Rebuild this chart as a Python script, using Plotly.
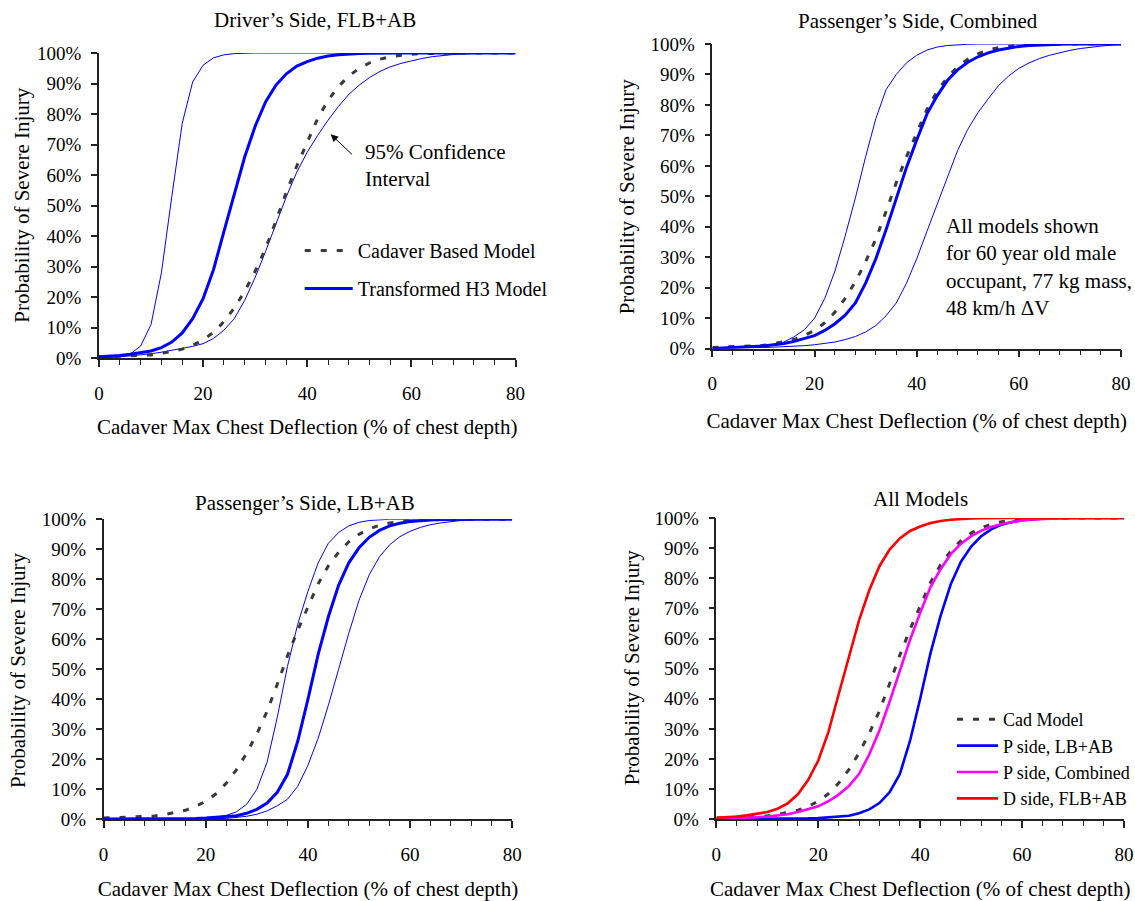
import plotly.graph_objects as go

# ---------------- data ----------------
deflection = list(range(0, 82, 2))  # Cadaver max chest deflection, % of chest depth

cadaver_model = [0.4, 0.5, 0.6, 0.7, 0.9, 1.1, 1.6, 2.2, 3.0, 4.3, 6.0, 8.5, 12.0, 16.5, 22.0,
                 28.5, 36.0, 45.0, 54.5, 63.0, 71.0, 78.5, 84.5, 89.0, 92.5, 95.0, 96.8, 98.0,
                 98.8, 99.3, 99.6, 99.8, 99.9, 100, 100, 100, 100, 100, 100, 100, 100]

d_side_flb_ab = [0.5, 0.6, 0.9, 1.3, 1.9, 2.4, 3.5, 5.3, 8.3, 13.0, 19.5, 29.0, 41.5, 54.0,
                 66.0, 76.0, 84.0, 89.5, 93.2, 95.7, 97.2, 98.3, 99.0, 99.4, 99.7, 99.85, 99.9,
                 100, 100, 100, 100, 100, 100, 100, 100, 100, 100, 100, 100, 100, 100]
d_side_ci_low = [0.2, 0.3, 0.6, 1.4, 4.0, 11.0, 28.0, 53.0, 77.0, 90.5, 96.0, 98.4, 99.4, 99.8,
                 100, 100, 100, 100, 100, 100, 100, 100, 100, 100, 100, 100, 100, 100, 100, 100,
                 100, 100, 100, 100, 100, 100, 100, 100, 100, 100, 100]
d_side_ci_high = [0.2, 0.3, 0.5, 0.8, 1.1, 1.5, 2.0, 2.6, 3.2, 3.9, 4.8, 6.5, 9.2, 13.0, 19.0,
                  26.5, 35.0, 44.0, 53.0, 61.0, 67.5, 73.0, 78.0, 82.5, 86.5, 89.5, 92.0, 94.0,
                  95.5, 96.6, 97.5, 98.2, 98.8, 99.2, 99.5, 99.7, 99.85, 99.9, 100, 100, 100]

p_side_combined = [0.1, 0.2, 0.3, 0.5, 0.7, 0.9, 1.2, 1.7, 2.4, 3.3, 4.3, 6.0, 8.2, 11.0, 15.0,
                   21.5, 29.5, 39.0, 49.5, 59.5, 68.5, 77.0, 83.0, 88.0, 91.5, 94.0, 95.8, 97.1,
                   98.0, 98.7, 99.2, 99.5, 99.7, 99.85, 99.95, 100, 100, 100, 100, 100, 100]
p_comb_ci_low = [0.2, 0.2, 0.3, 0.4, 0.5, 0.8, 1.3, 2.2, 3.9, 6.2, 10.0, 16.5, 25.5, 37.0, 49.5,
                 63.0, 75.5, 85.0, 90.0, 93.8, 96.3, 98.0, 99.0, 99.5, 99.8, 99.9, 100, 100, 100,
                 100, 100, 100, 100, 100, 100, 100, 100, 100, 100, 100, 100]
p_comb_ci_high = [0.2, 0.2, 0.2, 0.3, 0.3, 0.4, 0.5, 0.6, 0.8, 1.0, 1.3, 1.7, 2.2, 3.0, 4.0,
                  5.5, 7.6, 10.8, 15.0, 21.5, 29.5, 38.5, 47.5, 56.0, 65.0, 72.0, 77.5, 82.0,
                  86.3, 89.5, 92.0, 93.8, 95.2, 96.3, 97.2, 97.9, 98.5, 99.0, 99.3, 99.6, 99.8]

p_side_lb_ab = [0.1, 0.1, 0.1, 0.1, 0.1, 0.1, 0.1, 0.2, 0.2, 0.3, 0.4, 0.6, 0.8, 1.2, 2.0,
                3.3, 5.4, 9.0, 15.0, 26.0, 40.0, 55.0, 67.5, 78.0, 85.5, 90.5, 94.0, 96.3, 97.8,
                98.7, 99.3, 99.6, 99.8, 99.9, 100, 100, 100, 100, 100, 100, 100]
p_lb_ci_low = [0.0, 0.0, 0.0, 0.0, 0.0, 0.0, 0.0, 0.0, 0.1, 0.2, 0.4, 0.7, 1.3, 2.5, 5.0, 10.0,
               19.0, 34.0, 51.0, 65.0, 76.0, 85.5, 92.0, 95.6, 97.8, 99.0, 99.6, 99.9, 100, 100,
               100, 100, 100, 100, 100, 100, 100, 100, 100, 100, 100]
p_lb_ci_high = [0.0, 0.0, 0.0, 0.0, 0.0, 0.0, 0.0, 0.0, 0.0, 0.0, 0.1, 0.2, 0.3, 0.6, 1.0, 1.7,
                2.8, 4.5, 6.7, 11.0, 18.0, 27.0, 38.0, 50.0, 62.0, 73.0, 81.5, 87.5, 91.5, 94.2,
                96.0, 97.3, 98.2, 98.8, 99.3, 99.6, 99.8, 99.9, 100, 100, 100]

panel_titles = ["Driver\u2019s Side, FLB+AB", "Passenger\u2019s Side, Combined",
                "Passenger\u2019s Side, LB+AB", "All Models"]
x_title = "Cadaver Max Chest Deflection (% of chest depth)"
y_title = "Probability of Severe Injury"
x_ticks = [0, 20, 40, 60, 80]
y_ticks = list(range(0, 101, 10))
y_tick_text = [f"{v}%" for v in y_ticks]

# ---------------- styling ----------------
W, H = 1135, 901
FONT = "Liberation Serif, Times New Roman, serif"
BLUE, MAGENTA, RED, DASH_GRAY = "#0000FF", "#FF00FF", "#FF0000", "#3a3a3a"
AXIS_COLOR = "#222222"

def px_x(p):
    return p / W

def px_y(p):
    return 1 - p / H

# plot areas in pixels: (left, right, top, bottom)
areas = [(99, 516, 53, 358.3), (713, 1122, 44, 348.7),
         (103.7, 512.7, 519.3, 819.3), (717, 1125, 518, 819.3)]
xtitle_standoff = [16, 20, 20, 19]

fig = go.Figure()

def line_trace(y, ax, color, width, name=None, dash="solid", legend=None):
    xa = "x" if ax == 1 else f"x{ax}"
    ya = "y" if ax == 1 else f"y{ax}"
    t = go.Scatter(x=deflection, y=y, mode="lines", xaxis=xa, yaxis=ya,
                   line=dict(color=color, width=width, dash=dash),
                   cliponaxis=False, hoverinfo="skip",
                   showlegend=name is not None, name=name or "")
    if legend is not None:
        t.legend = legend
        t.legendgroup = name
    return t

CAD_DASH = "6px,10px"

# Panel 1
fig.add_trace(line_trace(d_side_ci_low, 1, BLUE, 1))
fig.add_trace(line_trace(d_side_ci_high, 1, BLUE, 1))
fig.add_trace(line_trace(cadaver_model, 1, DASH_GRAY, 3, "Cadaver Based Model", CAD_DASH, "legend"))
fig.add_trace(line_trace(d_side_flb_ab, 1, BLUE, 3, "Transformed H3 Model", "solid", "legend"))
# Panel 2
fig.add_trace(line_trace(p_comb_ci_low, 2, BLUE, 1))
fig.add_trace(line_trace(p_comb_ci_high, 2, BLUE, 1))
fig.add_trace(line_trace(cadaver_model, 2, DASH_GRAY, 3, dash=CAD_DASH))
fig.add_trace(line_trace(p_side_combined, 2, BLUE, 3))
# Panel 3
fig.add_trace(line_trace(p_lb_ci_low, 3, BLUE, 1))
fig.add_trace(line_trace(p_lb_ci_high, 3, BLUE, 1))
fig.add_trace(line_trace(cadaver_model, 3, DASH_GRAY, 3, dash=CAD_DASH))
fig.add_trace(line_trace(p_side_lb_ab, 3, BLUE, 3))
# Panel 4
fig.add_trace(line_trace(cadaver_model, 4, DASH_GRAY, 3, "Cad Model", CAD_DASH, "legend2"))
fig.add_trace(line_trace(p_side_lb_ab, 4, BLUE, 2.6, "P side, LB+AB", "solid", "legend2"))
fig.add_trace(line_trace(p_side_combined, 4, MAGENTA, 2.6, "P side, Combined", "solid", "legend2"))
fig.add_trace(line_trace(d_side_flb_ab, 4, RED, 2.6, "D side, FLB+AB", "solid", "legend2"))

layout = dict(
    width=W, height=H, autosize=False, margin=dict(l=0, r=0, t=0, b=0, pad=0),
    paper_bgcolor="white", plot_bgcolor="white",
    font=dict(family=FONT, size=21, color="black"),
    showlegend=True,
)

for i, (l, r, t, b) in enumerate(areas, start=1):
    sx = "" if i == 1 else str(i)
    layout[f"xaxis{sx}"] = dict(
        domain=[px_x(l), px_x(r)], anchor=f"y{sx}", range=[0, 80],
        tickvals=x_ticks, ticks="outside", ticklen=7, tickwidth=1.5, tickcolor=AXIS_COLOR,
        minor=dict(dtick=4, tick0=0, ticks="outside", ticklen=5, tickwidth=1, tickcolor=AXIS_COLOR),
        showline=True, linecolor=AXIS_COLOR, linewidth=1.5, showgrid=False, zeroline=False,
        tickfont=dict(family=FONT, size=19, color="black"), ticklabelstandoff=10,
        title=dict(text=x_title, font=dict(family=FONT, size=21), standoff=xtitle_standoff[i - 1]),
        automargin=False,
    )
    layout[f"yaxis{sx}"] = dict(
        domain=[px_y(b), px_y(t)], anchor=f"x{sx}", range=[0, 100],
        tickvals=y_ticks, ticktext=y_tick_text, ticks="outside", ticklen=6, tickwidth=1.5,
        tickcolor=AXIS_COLOR, showline=True, linecolor=AXIS_COLOR, linewidth=1.5,
        showgrid=False, zeroline=False,
        tickfont=dict(family=FONT, size=19, color="black"), ticklabelstandoff=6,
        automargin=False,
    )

title_pos = [(315, 20), (919, 20.7), (305, 503.3), (921, 499.3)]
ytitle_pos = [(21.7, 205), (627.2, 196.7), (18, 670), (632.9, 667)]
annotations = []
for txt, (cx, cy) in zip(panel_titles, title_pos):
    annotations.append(dict(text=txt, x=px_x(cx), y=px_y(cy), xref="paper", yref="paper",
                            xanchor="center", yanchor="middle", showarrow=False,
                            font=dict(family=FONT, size=21)))
for (cx, cy) in ytitle_pos:
    annotations.append(dict(text=y_title, x=px_x(cx), y=px_y(cy), xref="paper", yref="paper",
                            xanchor="center", yanchor="middle", showarrow=False, textangle=-90,
                            font=dict(family=FONT, size=21)))

annotations.append(dict(text="95% Confidence<br>Interval", x=px_x(363), y=px_y(165.8),
                        xref="paper", yref="paper", xanchor="left", yanchor="middle",
                        align="left", showarrow=False, font=dict(family=FONT, size=21)))
annotations.append(dict(text="", x=44.5, y=73.4, ax=48.9, ay=66.3, xref="x", yref="y",
                        axref="x", ayref="y", showarrow=True, arrowhead=2, arrowsize=1.5,
                        arrowwidth=1, arrowcolor="black"))
annotations.append(dict(text="All models shown<br>for 60 year old male<br>occupant, 77 kg mass,<br>48 km/h \u0394V",
                        x=px_x(944.7), y=px_y(267.2), xref="paper", yref="paper",
                        xanchor="left", yanchor="middle", align="left", showarrow=False,
                        font=dict(family=FONT, size=21)))
layout["annotations"] = annotations

layout["legend"] = dict(x=px_x(300), y=px_y(231), xanchor="left", yanchor="top",
                        bgcolor="rgba(0,0,0,0)", borderwidth=0, traceorder="grouped",
                        tracegroupgap=9, itemwidth=48,
                        font=dict(family=FONT, size=20, color="black"))
layout["legend2"] = dict(x=px_x(953), y=px_y(701), xanchor="left", yanchor="top",
                         bgcolor="rgba(0,0,0,0)", borderwidth=0, traceorder="normal",
                         itemwidth=41, font=dict(family=FONT, size=18, color="black"))

fig.update_layout(**layout)

page_fix = ("document.body.style.margin='0';document.body.style.padding='0';"
            "document.documentElement.style.overflow='hidden';"
            "var gd=document.getElementById('{plot_id}');"
            "Plotly.relayout(gd,{width:1135,height:901});")
fig.write_html("out.html", config={"responsive": False, "displayModeBar": False},
               post_script=page_fix)
